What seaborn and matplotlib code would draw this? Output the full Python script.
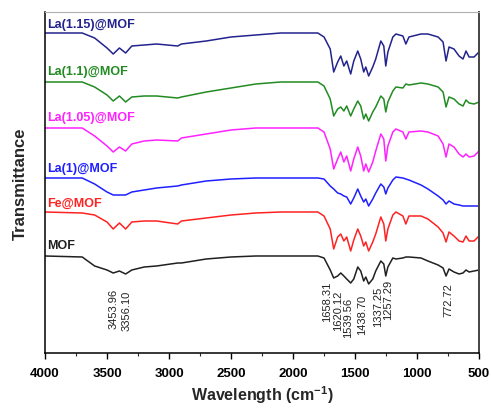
import pandas as pd
import matplotlib.pyplot as plt
import seaborn as sns
from matplotlib.ticker import MultipleLocator

sns.set_style('white')
plt.rcParams['font.family'] = ['Liberation Sans', 'DejaVu Sans']
plt.rcParams['mathtext.fontset'] = 'custom'
plt.rcParams['mathtext.bf'] = 'Liberation Sans:bold'
plt.rcParams['mathtext.rm'] = 'Liberation Sans:bold'

# key points of the spectra (cm-1)
wavenumber = [4000, 3700, 3600, 3500, 3450, 3400, 3350, 3300, 3200, 3100,
              2930, 2900, 2700, 2500, 2300, 2100, 1900, 1800, 1750, 1700,
              1672, 1640, 1615, 1590, 1567, 1535, 1510, 1478, 1454, 1430,
              1413, 1390, 1357, 1333, 1292, 1268, 1252, 1235, 1195, 1170,
              1114, 1090, 1065, 968, 912, 830, 790, 766, 742, 702,
              661, 629, 605, 580, 540, 500]

# stacked transmittance (arbitrary units, offset per sample)
t_mof = [97, 96, 87, 83, 80, 82, 79, 83, 86, 87,
         90, 90, 94, 96, 97, 97, 97, 97, 95, 83,
         75, 77, 80, 77, 74, 70, 74, 86, 82, 72,
         76, 69, 74, 82, 92, 89, 77, 86, 95, 94,
         95, 96, 96, 95, 92, 88, 85, 77, 84, 81,
         79, 80, 83, 81, 82, 83]
t_fe = [141, 140, 138, 131, 124, 130, 124, 131, 132, 132,
        129, 132, 135, 138, 140, 141, 141, 141, 137, 124,
        104, 116, 119, 112, 116, 102, 113, 124, 117, 107,
        111, 102, 111, 119, 136, 129, 112, 124, 138, 141,
        137, 129, 137, 137, 134, 126, 120, 111, 121, 117,
        112, 111, 117, 112, 112, 117]
t_la1 = [175, 175, 169, 161, 158, 158, 158, 161, 163, 165,
         167, 168, 172, 174, 175, 175, 175, 175, 174, 167,
         164, 160, 159, 157, 156, 149, 155, 164, 157, 151,
         154, 147, 154, 160, 169, 166, 159, 165, 173, 176,
         175, 174, 173, 168, 164, 157, 153, 149, 152, 149,
         148, 147, 147, 147, 147, 147]
t_la105 = [225, 225, 217, 207, 201, 206, 202, 209, 212, 213,
           212, 215, 219, 223, 225, 225, 225, 225, 221, 204,
           184, 194, 201, 191, 197, 182, 194, 206, 197, 182,
           189, 181, 191, 202, 219, 214, 192, 207, 221, 224,
           221, 214, 221, 222, 221, 217, 209, 196, 209, 206,
           199, 196, 199, 196, 197, 202]
t_la11 = [271, 271, 266, 258, 252, 257, 251, 256, 257, 257,
          255, 256, 261, 265, 269, 271, 271, 271, 267, 254,
          237, 244, 246, 242, 247, 237, 244, 252, 247, 234,
          239, 232, 241, 246, 257, 254, 241, 251, 262, 266,
          265, 269, 268, 270, 269, 266, 261, 246, 256, 254,
          249, 247, 253, 250, 249, 251]
t_la115 = [320, 320, 315, 305, 299, 305, 300, 307, 308, 309,
           307, 309, 312, 316, 318, 320, 320, 320, 316, 304,
           281, 291, 297, 287, 292, 279, 292, 302, 294, 281,
           286, 277, 286, 294, 312, 307, 287, 301, 316, 319,
           317, 309, 316, 319, 319, 316, 311, 292, 306, 304,
           297, 294, 302, 296, 296, 301]

samples = ['MOF', 'Fe@MOF', 'La(1)@MOF', 'La(1.05)@MOF', 'La(1.1)@MOF', 'La(1.15)@MOF']
colors = ['#202020', '#ff2222', '#1f1fff', '#ff22ff', '#228b22', '#23238e']
label_y = [108, 150, 185, 236, 282, 329]

peak_labels = ['3453.96', '3356.10', '1658.31', '1620.12', '1539.56',
               '1438.70', '1337.25', '1257.29', '772.72']
peak_x = [3450, 3345, 1722, 1640, 1552, 1445, 1316, 1236, 750]
peak_top = [65, 63, 72, 63, 56, 59, 67, 74, 71]

frames = []
for name, vals in zip(samples, [t_mof, t_fe, t_la1, t_la105, t_la11, t_la115]):
    frames.append(pd.DataFrame({'wavenumber': wavenumber, 'T': vals, 'sample': name}))
df = pd.concat(frames, ignore_index=True)

fig = plt.figure(figsize=(4.91, 4.10), dpi=100)
ax = fig.add_axes([0.0917, 0.1366, 0.8839, 0.8317])

sns.lineplot(data=df, x='wavenumber', y='T', hue='sample',
             palette=dict(zip(samples, colors)), estimator=None, sort=False,
             linewidth=1.1, legend=False, ax=ax)

ax.set_xlim(4000, 500)
ax.set_ylim(0, 341)

# sample names above each curve
for name, c, y in zip(samples, colors, label_y):
    ax.text(3984, y, name, color=c, fontsize=9, fontweight='bold', va='center', ha='left')

# peak positions
for txt, x, y in zip(peak_labels, peak_x, peak_top):
    ax.text(x, y, txt, rotation=90, fontsize=8, color='#222222', ha='center', va='top')

ax.xaxis.set_major_locator(MultipleLocator(500))
ax.xaxis.set_minor_locator(MultipleLocator(250))
ax.set_yticks([])
ax.tick_params(axis='x', which='major', direction='out', length=4, width=1,
               bottom=True, pad=6, labelsize=9.5, colors='black')
ax.tick_params(axis='x', which='minor', direction='out', length=2.5, width=0.8, bottom=True)
for lab in ax.get_xticklabels():
    lab.set_fontweight('bold')

for side in ['left', 'bottom']:
    ax.spines[side].set_color('black')
    ax.spines[side].set_linewidth(1.1)
ax.spines['top'].set_color('#b0b0b0')
ax.spines['top'].set_linewidth(0.8)
ax.spines['right'].set_color('#444444')
ax.spines['right'].set_linewidth(1.4)

ax.set_xlabel(r'Wavelength (cm$^{\mathbf{-1}}$)', fontsize=11.5, fontweight='bold', labelpad=3)
ax.set_ylabel('Transmittance', fontsize=12, fontweight='bold', labelpad=12)

fig.savefig('out.png', dpi=100)
